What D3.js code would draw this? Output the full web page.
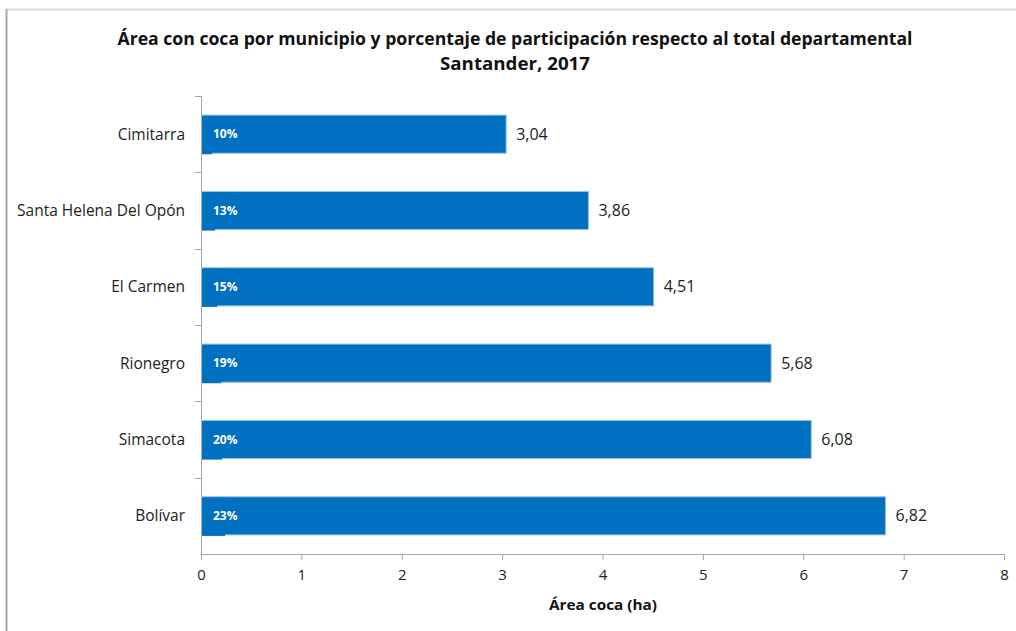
<!DOCTYPE html>
<html>
<head>
<meta charset="utf-8">
<script src="https://cdn.jsdelivr.net/npm/d3@7"></script>
<style>
  body { margin: 0; background: #fff; }
  text { font-family: "Open Sans", "Noto Sans", sans-serif; }
</style>
</head>
<body>
<script>
const municipios = ["Cimitarra", "Santa Helena Del Opón", "El Carmen", "Rionegro", "Simacota", "Bolívar"]
const area = [3.04, 3.86, 4.51, 5.68, 6.08, 6.82]
const participacion = [0.10, 0.13, 0.15, 0.19, 0.20, 0.23]
const xTicks = [0, 1, 2, 3, 4, 5, 6, 7, 8]

const W = 1016, H = 631
const margin = {top: 96, right: 12, bottom: 77, left: 201}
, width = 1004 - margin.left
, height = 554 - margin.top

const svg = d3.select('body').append('svg')
    .attr('width', W)
    .attr('height', H)

// chart frame
svg.append('line')
    .attr('x1', 6).attr('x2', W).attr('y1', 9.5).attr('y2', 9.5)
    .attr('stroke', '#d9d9d9').attr('stroke-width', 2)
svg.append('line')
    .attr('x1', 6.5).attr('x2', 6.5).attr('y1', 9).attr('y2', H)
    .attr('stroke', '#a6a6a6').attr('stroke-width', 2)

const xScale = d3.scaleLinear()
    .domain([0, 8])
    .range([margin.left, margin.left + width])

const yScale = d3.scaleBand()
    .domain(municipios)
    .range([margin.top, margin.top + height])
    .paddingInner(0.5)
    .paddingOuter(0.25)

// y axis with ticks between categories
const yBounds = d3.range(municipios.length + 1).map(i => margin.top + i * height / municipios.length)
svg.append('line')
    .attr('x1', margin.left + 0.5).attr('x2', margin.left + 0.5)
    .attr('y1', margin.top).attr('y2', margin.top + height)
    .attr('stroke', '#a6a6a6')
svg.selectAll('.ytick').data(yBounds.slice(0, -1))
    .enter().append('line')
    .attr('x1', margin.left - 6).attr('x2', margin.left)
    .attr('y1', d => Math.round(d) + 0.5).attr('y2', d => Math.round(d) + 0.5)
    .attr('stroke', '#a6a6a6')

svg.selectAll('.cat').data(municipios)
    .enter().append('text')
    .attr('x', 185)
    .attr('y', d => yScale(d) + yScale.bandwidth() / 2)
    .attr('dy', '0.35em')
    .attr('text-anchor', 'end')
    .attr('font-size', '15.5px')
    .attr('fill', '#222')
    .text(d => d)

// x axis
const xAxis = svg.append('g')
    .attr('transform', 'translate(0,' + (margin.top + height) + ')')
    .call(d3.axisBottom(xScale).tickValues(xTicks).tickSize(6).tickFormat(d3.format('d')))
xAxis.select('.domain').attr('stroke', '#a6a6a6')
xAxis.selectAll('line').attr('stroke', '#a6a6a6')
xAxis.selectAll('text')
    .attr('font-size', '15px')
    .attr('fill', '#222')
    .attr('dy', '1.15em')
    .style('font-family', '"Open Sans", sans-serif')

// main bars
svg.selectAll('.bar').data(municipios)
    .enter().append('rect')
    .attr('x', xScale(0) + 1)
    .attr('y', d => yScale(d))
    .attr('width', (d, i) => xScale(area[i]) - xScale(0) - 1)
    .attr('height', yScale.bandwidth())
    .attr('fill', '#0070c0')
    .attr('stroke', '#9dc3e6')
    .attr('stroke-width', 1)

// participation bars
svg.selectAll('.pbar').data(municipios)
    .enter().append('rect')
    .attr('x', xScale(0) + 1)
    .attr('y', d => yScale(d) + 1)
    .attr('width', (d, i) => xScale(participacion[i]) - xScale(0))
    .attr('height', yScale.bandwidth())
    .attr('fill', '#0070c0')

svg.selectAll('.plabel').data(municipios)
    .enter().append('text')
    .attr('x', 213)
    .attr('y', d => yScale(d) + yScale.bandwidth() / 2)
    .attr('dy', '0.35em')
    .attr('font-size', '12px')
    .attr('font-weight', 'bold')
    .attr('fill', '#fff')
    .text((d, i) => Math.round(participacion[i] * 100) + '%')

svg.selectAll('.vlabel').data(municipios)
    .enter().append('text')
    .attr('x', (d, i) => xScale(area[i]) + 10)
    .attr('y', d => yScale(d) + yScale.bandwidth() / 2)
    .attr('dy', '0.35em')
    .attr('font-size', '16px')
    .attr('fill', '#222')
    .text((d, i) => d3.format('.2f')(area[i]).replace('.', ','))

// titles
svg.append('text')
    .attr('x', 515).attr('y', 45)
    .attr('text-anchor', 'middle')
    .attr('font-size', '18px')
    .attr('font-weight', 'bold')
    .attr('fill', '#111')
    .attr('textLength', 795)
    .attr('lengthAdjust', 'spacingAndGlyphs')
    .text('Área con coca por municipio y porcentaje de participación  respecto al total departamental')
svg.append('text')
    .attr('x', 515).attr('y', 70)
    .attr('text-anchor', 'middle')
    .attr('font-size', '18px')
    .attr('font-weight', 'bold')
    .attr('fill', '#111')
    .attr('textLength', 150)
    .attr('lengthAdjust', 'spacingAndGlyphs')
    .text('Santander, 2017')

svg.append('text')
    .attr('x', 603).attr('y', 610)
    .attr('text-anchor', 'middle')
    .attr('font-size', '15px')
    .attr('font-weight', 'bold')
    .attr('fill', '#111')
    .attr('textLength', 108)
    .attr('lengthAdjust', 'spacingAndGlyphs')
    .text('Área coca (ha)')
</script>
</body>
</html>
